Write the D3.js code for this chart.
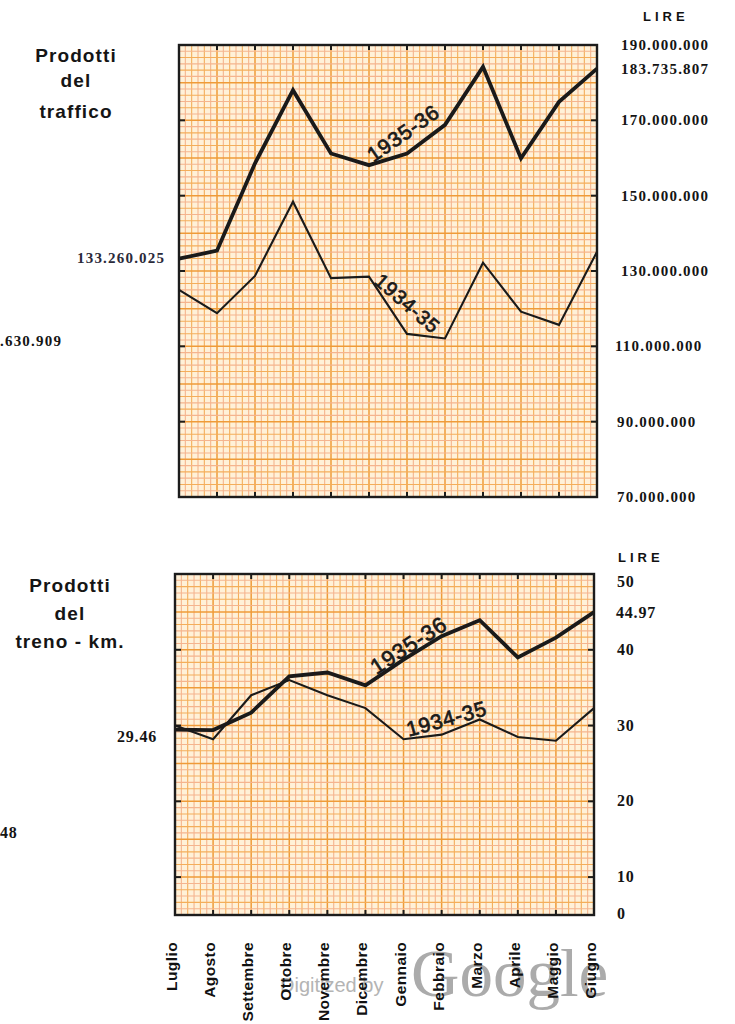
<!DOCTYPE html>
<html><head><meta charset="utf-8">
<script src="https://cdn.jsdelivr.net/npm/d3@7"></script>
<style>
html,body{margin:0;padding:0;background:#fff;}
svg{display:block;}
</style></head>
<body>
<script>
// ---------- DATA ----------
const months = ["Luglio","Agosto","Settembre","Ottobre","Novembre","Dicembre","Gennaio","Febbraio","Marzo","Aprile","Maggio","Giugno"];
// Prodotti del traffico, millions of lire
const traffic3536 = [133.26, 135.4, 158.6, 178.0, 161.2, 158.1, 161.2, 168.8, 184.2, 159.9, 174.9, 183.74];
const traffic3435 = [125.0, 118.8, 128.7, 148.4, 128.1, 128.5, 113.3, 112.1, 132.2, 119.2, 115.7, 135.1];
const trafficTicks = [190, 170, 150, 130, 110, 90, 70];
const trafficTickLabels = ["190.000.000","170.000.000","150.000.000","130.000.000","110.000.000","90.000.000","70.000.000"];
// Prodotti del treno-km, lire
const train3536 = [29.46, 29.4, 31.7, 36.5, 37.0, 35.3, 38.7, 41.8, 43.9, 39.0, 41.6, 44.97];
const train3435 = [30.0, 28.2, 34.0, 36.0, 34.0, 32.3, 28.2, 28.8, 30.8, 28.5, 28.0, 32.3];
const trainTicks = [50, 40, 30, 20, 10];
const trainTickLabels = ["50","40","30","20","10"];

// ---------- SETUP ----------
const W = 735, H = 1024;
const svg = d3.select("body").append("svg").attr("width", W).attr("height", H);
const numFont = "'Liberation Serif', 'DejaVu Serif', serif";
const sansFont = "'Liberation Sans', Arial, Helvetica, sans-serif";

function panel(cfg){
  const {x, y, majorStep, sideTicks} = cfg;
  const [x0, x1] = x.range();
  const [yb, yt] = y.range();
  const g = svg.append("g");
  g.append("rect").attr("x", x0).attr("y", yt).attr("width", x1 - x0).attr("height", yb - yt).attr("fill", "#fff1d8");
  const monthStep = x.step();
  const sub = 6;
  const col = (i) => i % sub === 0 ? "#ef9b38" : (i % 2 ? "#f5b48e" : "#f4ae5a");
  const vLines = d3.range(0, Math.round((x1 - x0) / (monthStep / sub)) + 1).map(k => x0 + k * monthStep / sub);
  g.selectAll(".vg").data(vLines).join("line")
    .attr("x1", d => d).attr("x2", d => d).attr("y1", yt).attr("y2", yb)
    .attr("stroke", (d, i) => col(i))
    .attr("stroke-width", (d, i) => i % sub === 0 ? 1.5 : 1.1);
  const d1 = y.domain()[1];
  const unitPx = Math.abs(y(majorStep) - y(0));
  const nH = Math.round((yb - yt) / (unitPx / sub));
  const hLines = d3.range(0, nH + 1).map(k => y(d1) + k * unitPx / sub);
  g.selectAll(".hg").data(hLines).join("line")
    .attr("x1", x0).attr("x2", x1).attr("y1", d => d).attr("y2", d => d)
    .attr("stroke", (d, i) => col(i))
    .attr("stroke-width", (d, i) => i % sub === 0 ? 1.5 : 1.1);
  g.append("rect").attr("x", x0).attr("y", yt).attr("width", x1 - x0).attr("height", yb - yt)
    .attr("fill", "none").attr("stroke", "#1c1c1c").attr("stroke-width", 2.4);
  const inner = months.slice(1, -1);
  g.selectAll(".tt").data(inner).join("line")
    .attr("x1", d => x(d)).attr("x2", d => x(d)).attr("y1", yt).attr("y2", yt + 5)
    .attr("stroke", "#1c1c1c").attr("stroke-width", 2);
  g.selectAll(".tb").data(inner).join("line")
    .attr("x1", d => x(d)).attr("x2", d => x(d)).attr("y1", yb).attr("y2", yb - 5)
    .attr("stroke", "#1c1c1c").attr("stroke-width", 2);
  g.selectAll(".tl").data(sideTicks).join("line")
    .attr("x1", x0).attr("x2", x0 + 6).attr("y1", d => y(d)).attr("y2", d => y(d))
    .attr("stroke", "#1c1c1c").attr("stroke-width", 2);
  g.selectAll(".tr").data(sideTicks).join("line")
    .attr("x1", x1).attr("x2", x1 - 6).attr("y1", d => y(d)).attr("y2", d => y(d))
    .attr("stroke", "#1c1c1c").attr("stroke-width", 2);
  return g;
}

function drawLine(g, x, y, vals, w){
  const line = d3.line().x((d, i) => x(months[i])).y(d => y(d));
  g.append("path").attr("d", line(vals)).attr("fill", "none")
    .attr("stroke", "#1a1a1a").attr("stroke-width", w).attr("stroke-linejoin", "miter");
}

function lineLabel(g, x, y, text, idx, val, angle, size){
  const px = x(months[0]) + idx * x.step();
  g.append("text").attr("transform", `translate(${px},${y(val)}) rotate(${angle})`)
    .attr("text-anchor", "middle").attr("dy", "0.35em")
    .attr("font-family", sansFont).attr("font-size", size).attr("letter-spacing", 0.8)
    .attr("fill", "#1a1a1a").attr("stroke", "#1a1a1a").attr("stroke-width", 0.7).text(text);
}

// ---------- TOP PANEL ----------
const xT = d3.scalePoint().domain(months).range([179, 597]);
const yT = d3.scaleLinear().domain([70, 190]).range([497, 45]);
const gT = panel({x: xT, y: yT, majorStep: 10, sideTicks: [170, 150, 130, 110, 90]});
drawLine(gT, xT, yT, traffic3435, 2.1);
drawLine(gT, xT, yT, traffic3536, 3.8);
lineLabel(gT, xT, yT, "1935-36", 5.9, 166.6, -35, 21);
lineLabel(gT, xT, yT, "1934-35", 6.01, 121.4, 41, 20);

svg.append("text").attr("x", 643).attr("y", 21).attr("font-family", sansFont).attr("font-weight", "bold")
  .attr("font-size", 13).attr("letter-spacing", 4).attr("fill", "#111").text("LIRE");
svg.selectAll(".rlT").data(trafficTicks).join("text")
  .attr("x", (d, i) => trafficTickLabels[i].length > 10 ? (d === 110 ? 615 : 621) : 617)
  .attr("y", d => yT(d) + 5)
  .attr("font-family", numFont).attr("font-weight", "bold").attr("font-size", 15).attr("letter-spacing", 1.2)
  .attr("fill", "#141414").text((d, i) => trafficTickLabels[i]);
svg.append("text").attr("x", 621).attr("y", yT(traffic3536[11]) + 5)
  .attr("font-family", numFont).attr("font-weight", "bold").attr("font-size", 15).attr("letter-spacing", 1.2)
  .attr("fill", "#141414").text("183.735.807");
svg.append("text").attr("x", 77).attr("y", yT(traffic3536[0]) + 4)
  .attr("font-family", numFont).attr("font-weight", "bold").attr("font-size", 15).attr("letter-spacing", 1.2)
  .attr("fill", "#2a2a3a").text("133.260.025");
svg.append("text").attr("x", 0).attr("y", 346)
  .attr("font-family", numFont).attr("font-weight", "bold").attr("font-size", 15).attr("letter-spacing", 1.2)
  .attr("fill", "#141414").text(".630.909");

const t1 = svg.append("text").attr("font-family", sansFont).attr("font-weight", "bold").attr("font-size", 19)
  .attr("letter-spacing", 1.1).attr("text-anchor", "middle").attr("fill", "#151515");
[["Prodotti", 62], ["del", 87], ["traffico", 118]].forEach(([s, yy]) => t1.append("tspan").attr("x", 76).attr("y", yy).text(s));

// ---------- BOTTOM PANEL ----------
const xB = d3.scalePoint().domain(months).range([175, 594]);
const yB = d3.scaleLinear().domain([5, 50]).range([915, 574]);
const gB = panel({x: xB, y: yB, majorStep: 5, sideTicks: [40, 30, 20, 10]});
drawLine(gB, xB, yB, train3435, 2.1);
drawLine(gB, xB, yB, train3536, 3.8);
lineLabel(gB, xB, yB, "1935-36", 6.13, 40.6, -33, 22);
lineLabel(gB, xB, yB, "1934-35", 7.13, 30.9, -15.5, 21);

svg.append("text").attr("x", 618).attr("y", 562).attr("font-family", sansFont).attr("font-weight", "bold")
  .attr("font-size", 13).attr("letter-spacing", 4).attr("fill", "#111").text("LIRE");
svg.selectAll(".rlB").data(trainTicks).join("text")
  .attr("x", 617)
  .attr("y", d => Math.max(yB(d) + 5, yB(50) + 13))
  .attr("font-family", numFont).attr("font-weight", "bold").attr("font-size", 16).attr("letter-spacing", 0.8)
  .attr("fill", "#141414").text((d, i) => trainTickLabels[i]);
svg.append("text").attr("x", 617).attr("y", yB.range()[0] + 4)
  .attr("font-family", numFont).attr("font-weight", "bold").attr("font-size", 16).attr("fill", "#141414").text("0");
svg.append("text").attr("x", 616).attr("y", yB(train3536[11]) + 6)
  .attr("font-family", numFont).attr("font-weight", "bold").attr("font-size", 16).attr("letter-spacing", 0.8)
  .attr("fill", "#141414").text("44.97");
svg.append("text").attr("x", 117).attr("y", 742)
  .attr("font-family", numFont).attr("font-weight", "bold").attr("font-size", 16).attr("letter-spacing", 0.8)
  .attr("fill", "#141414").text("29.46");
svg.append("text").attr("x", 0).attr("y", 838)
  .attr("font-family", numFont).attr("font-weight", "bold").attr("font-size", 16).attr("letter-spacing", 0.8)
  .attr("fill", "#141414").text("48");

const t2 = svg.append("text").attr("font-family", sansFont).attr("font-weight", "bold").attr("font-size", 19)
  .attr("letter-spacing", 1.1).attr("text-anchor", "middle").attr("fill", "#151515");
[["Prodotti", 592], ["del", 620], ["treno - km.", 648]].forEach(([s, yy]) => t2.append("tspan").attr("x", 70).attr("y", yy).text(s));

// ---------- watermark ----------
svg.append("text").attr("x", 280).attr("y", 992).attr("font-family", sansFont).attr("font-size", 20)
  .attr("fill", "#b4b4b4").text("Digitized by");
svg.append("text").attr("x", 411).attr("y", 996).attr("font-family", numFont).attr("font-size", 67)
  .attr("fill", "#9c9c9c").attr("fill-opacity", 0.85).text("Google");

// ---------- month labels ----------
svg.selectAll(".ml").data(months).join("text")
  .attr("transform", d => `translate(${xB(d) + 2},942) rotate(-90)`)
  .attr("text-anchor", "end")
  .attr("font-family", sansFont).attr("font-weight", "bold").attr("font-size", 15.5).attr("letter-spacing", 0.4)
  .attr("fill", "#111").text(d => d);
</script>
</body></html>
